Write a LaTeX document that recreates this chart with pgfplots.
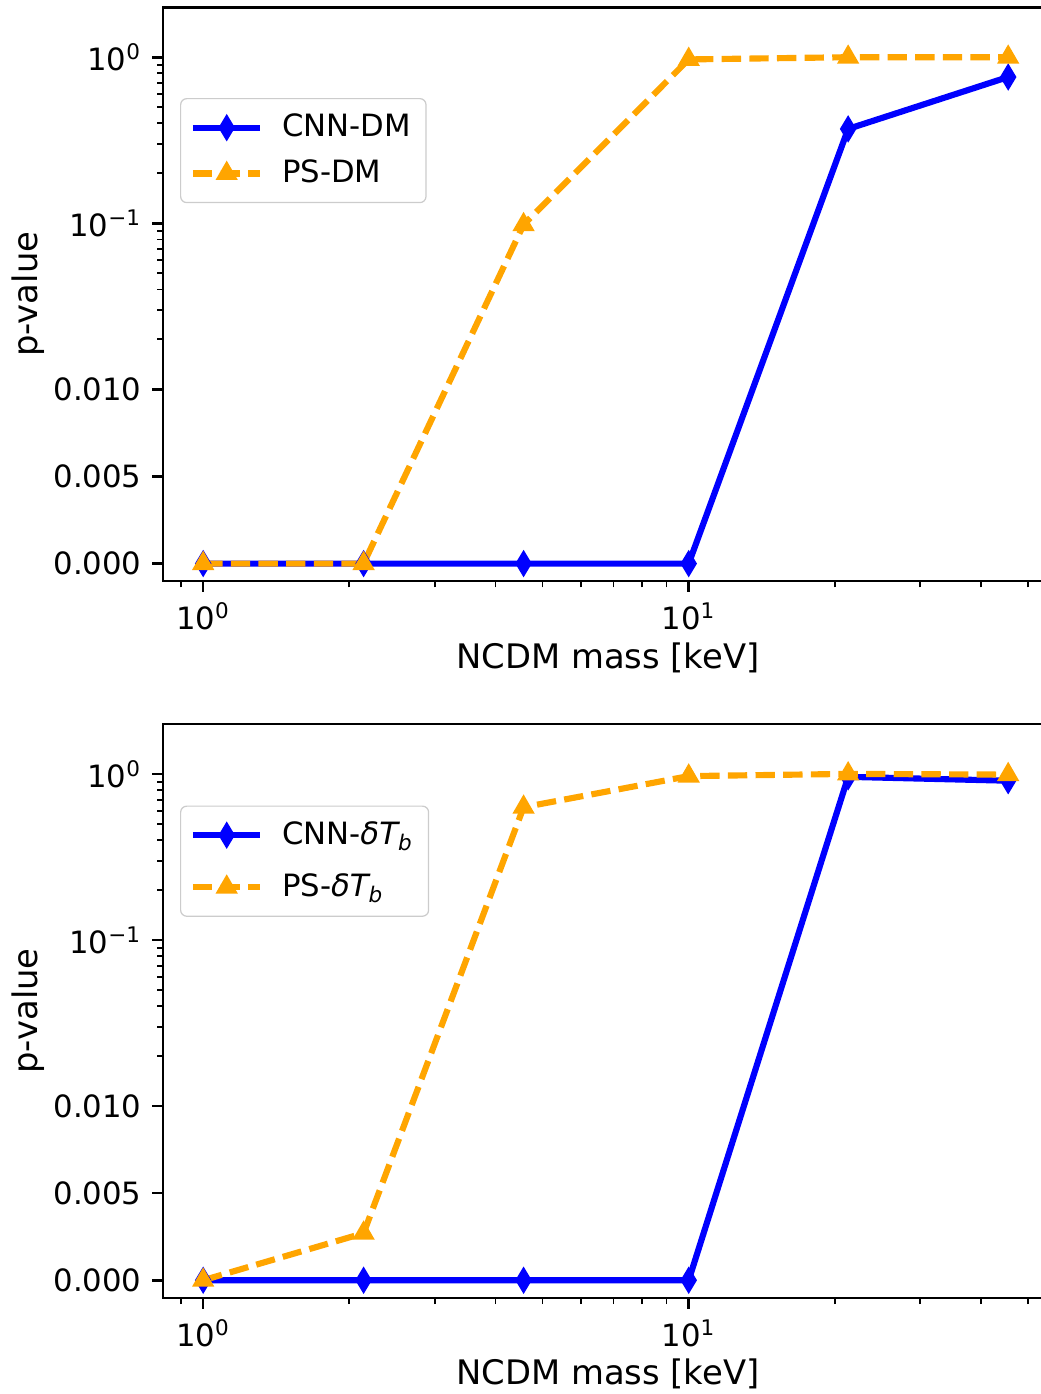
\documentclass[border=0pt]{standalone}
\usepackage{fontspec}
\setmainfont{DejaVu Sans}
\usepackage{pgfplots}
\pgfplotsset{compat=1.18}

\definecolor{mplblue}{RGB}{0,0,255}
\definecolor{mplorange}{RGB}{255,165,0}

% symlog-like y axis: linear below 0.01, log above
\pgfplotsset{
  every axis/.append style={
    width=289.6pt, height=186.8pt, scale only axis,
    xmin=0.827, xmax=56.2,
    ymin=-0.001, ymax=2,
    xtick={1,10},
    xticklabels={10\textsuperscript{0},10\textsuperscript{1}},
    minor xtick={0.9,2,3,4,5,6,7,8,9,20,30,40,50},
    ytick={0,0.005,0.01,0.1,1},
    yticklabels={0.000,0.005,0.010,10\textsuperscript{−1},10\textsuperscript{0}},
    minor ytick={0.02,0.03,0.04,0.05,0.06,0.07,0.08,0.09,0.2,0.3,0.4,0.5,0.6,0.7,0.8,0.9},
    xtick pos=bottom, ytick pos=left,
    tick align=outside,
    major tick length=3.5pt, minor tick length=2pt,
    axis line style={line width=0.8pt},
    tick label style={font=\fontsize{10}{12}\selectfont},
    label style={font=\fontsize{11}{13}\selectfont},
    xlabel style={at={(axis description cs:0.5,-0.1515)}, anchor=base},
    ylabel style={at={(axis description cs:-0.1416,0.5)}, anchor=base},
    legend style={anchor=north west, draw=black!20, rounded corners=2pt,
      fill=white, font=\fontsize{10}{12}\selectfont,
      inner xsep=3pt, inner ysep=3pt, row sep=2pt,
      /tikz/every odd column/.append style={column sep=4pt}},
    legend cell align=left,
  },
  every tick/.style={black, line width=0.8pt},
  every minor tick/.append style={line width=0.6pt},
  legend image code/.code={\draw[mark repeat=2,mark phase=2]
    plot coordinates {(0pt,0pt)(11pt,0pt)(22pt,0pt)};},
  cnn/.style={mplblue, line width=2pt, mark=diamond*, mark size=4pt,
    mark options={solid, xscale=0.8, line width=0.5pt}},
  ps/.style={mplorange, line width=2pt, dash pattern=on 6.3pt off 2.7pt,
    mark=triangle*, mark size=3.7pt, mark options={solid, line width=0.5pt}},
}

\begin{document}
\begin{tikzpicture}
\begin{axis}[xmode=log,
  y coord trafo/.code={\pgfmathparse{105*min(#1,0.01)+log10(100*max(#1,0.01))}},
  at={(0,0)}, anchor=south west,
  xlabel={NCDM mass [keV]}, ylabel={p-value},
  legend style={at={(axis description cs:0.019,0.842)}}]
\addplot[cnn] coordinates {
  (1,0) (2.14,0) (4.57,0) (10,0) (21.3,0.37) (45.5,0.76)
};
\addlegendentry{CNN-DM}
\addplot[ps] coordinates {
  (1,0) (2.14,0) (4.57,0.098) (10,0.97) (21.3,1.0) (45.5,1.0)
};
\addlegendentry{PS-DM}
\end{axis}

\begin{axis}[xmode=log,
  y coord trafo/.code={\pgfmathparse{105*min(#1,0.01)+log10(100*max(#1,0.01))}},
  at={(0,-46.5pt)}, anchor=north west,
  xlabel={NCDM mass [keV]}, ylabel={p-value},
  legend style={at={(axis description cs:0.019,0.858)}, row sep=4pt}]
\addplot[cnn] coordinates {
  (1,0) (2.14,0) (4.57,0) (10,0) (21.3,0.96) (45.5,0.91)
};
\addlegendentry{CNN-{\itshape δT}\textsubscript{\itshape b}}
\addplot[ps] coordinates {
  (1,0) (2.14,0.0027) (4.57,0.63) (10,0.97) (21.3,1.0) (45.5,0.99)
};
\addlegendentry{PS-{\itshape δT}\textsubscript{\itshape b}}
\end{axis}

\pgfresetboundingbox
\useasboundingbox (-53.1pt,-264.6pt) rectangle (285.6pt,189.2pt);
\end{tikzpicture}
\end{document}
